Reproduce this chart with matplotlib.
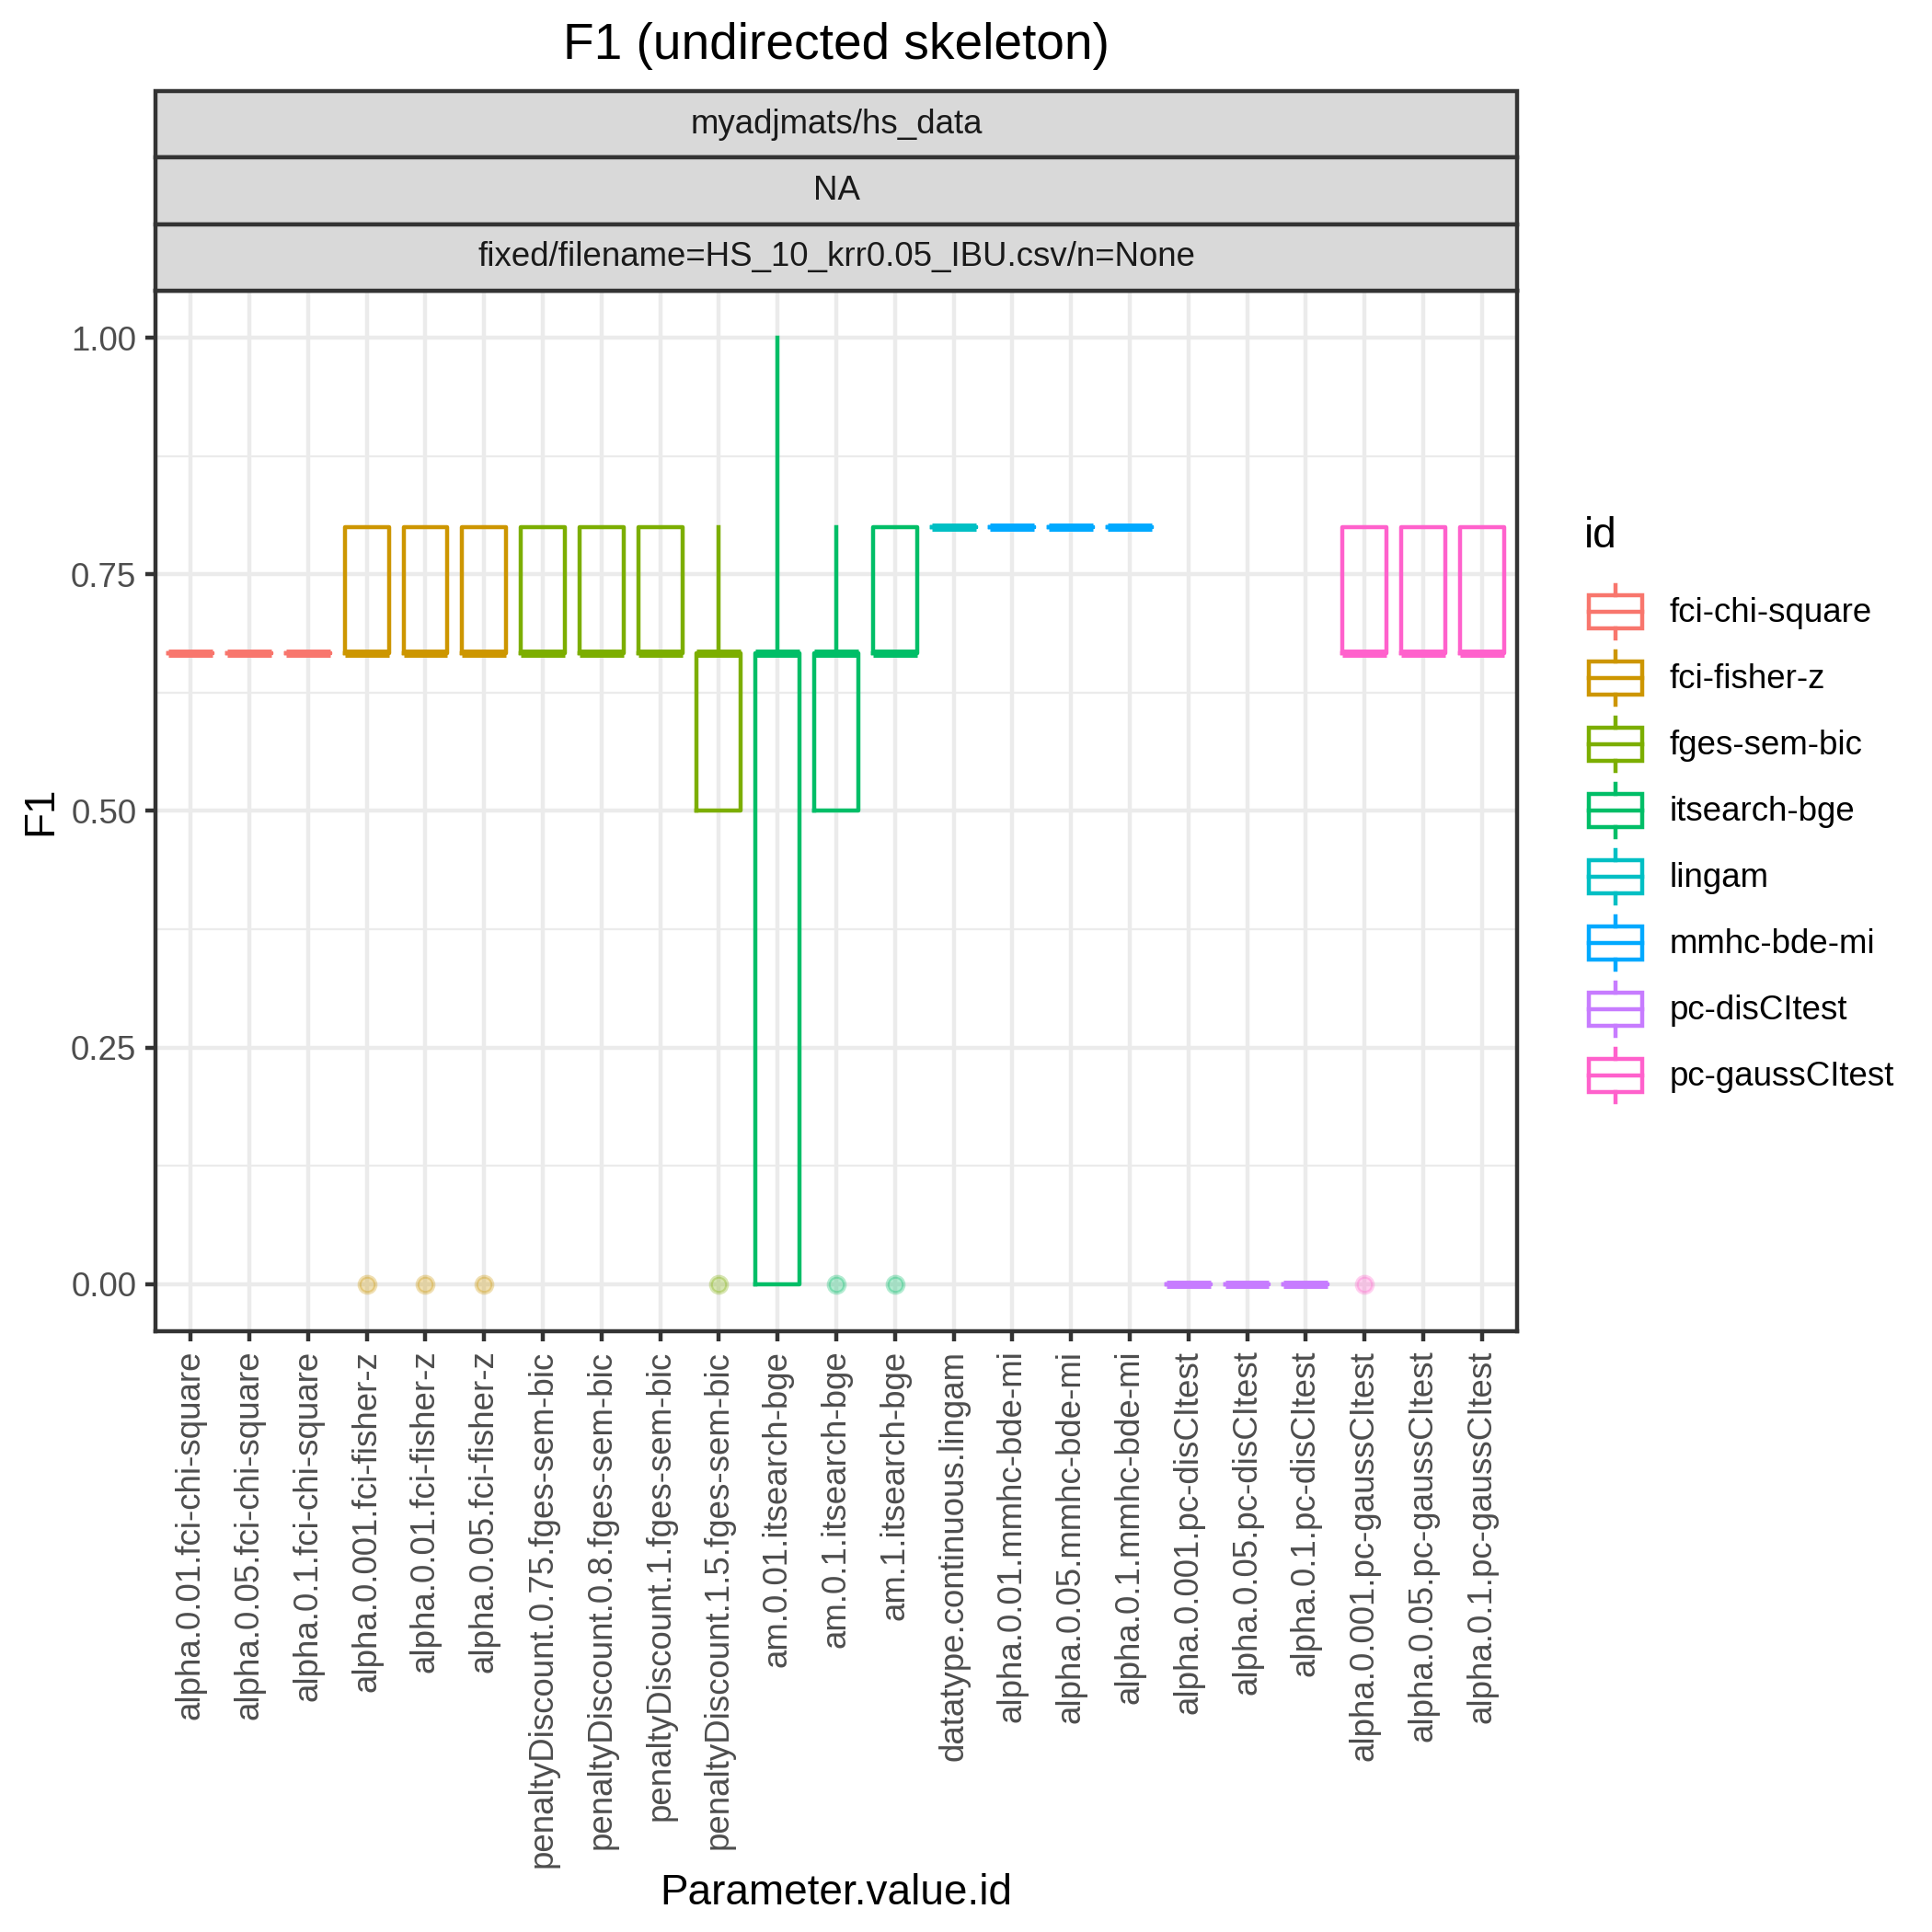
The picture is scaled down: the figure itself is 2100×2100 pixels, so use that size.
import matplotlib
matplotlib.use("Agg")
import matplotlib.pyplot as plt
from matplotlib.patches import Rectangle
from matplotlib.lines import Line2D
from matplotlib.legend_handler import HandlerBase
import numpy as np

plt.rcParams['font.family'] = ['Liberation Sans', 'DejaVu Sans']

# categories along x and the algorithm id of each one
categories = ["alpha.0.01.fci-chi-square", "alpha.0.05.fci-chi-square", "alpha.0.1.fci-chi-square",
              "alpha.0.001.fci-fisher-z", "alpha.0.01.fci-fisher-z", "alpha.0.05.fci-fisher-z",
              "penaltyDiscount.0.75.fges-sem-bic", "penaltyDiscount.0.8.fges-sem-bic",
              "penaltyDiscount.1.fges-sem-bic", "penaltyDiscount.1.5.fges-sem-bic",
              "am.0.01.itsearch-bge", "am.0.1.itsearch-bge", "am.1.itsearch-bge",
              "datatype.continuous.lingam",
              "alpha.0.01.mmhc-bde-mi", "alpha.0.05.mmhc-bde-mi", "alpha.0.1.mmhc-bde-mi",
              "alpha.0.001.pc-disCItest", "alpha.0.05.pc-disCItest", "alpha.0.1.pc-disCItest",
              "alpha.0.001.pc-gaussCItest", "alpha.0.05.pc-gaussCItest", "alpha.0.1.pc-gaussCItest"]
cat_ids = ["fci-chi-square"] * 3 + ["fci-fisher-z"] * 3 + ["fges-sem-bic"] * 4 + \
          ["itsearch-bge"] * 3 + ["lingam"] + ["mmhc-bde-mi"] * 3 + \
          ["pc-disCItest"] * 3 + ["pc-gaussCItest"] * 3

# box statistics
t = 2.0 / 3.0
whislo = [t, t, t, t, t, t, t, t, t, 0.5, 0.0, 0.5, t, 0.8, 0.8, 0.8, 0.8, 0, 0, 0, t, t, t]
q1     = [t, t, t, t, t, t, t, t, t, 0.5, 0.0, 0.5, t, 0.8, 0.8, 0.8, 0.8, 0, 0, 0, t, t, t]
med    = [t, t, t, t, t, t, t, t, t, t,   t,   t,   t, 0.8, 0.8, 0.8, 0.8, 0, 0, 0, t, t, t]
q3     = [t, t, t, 0.8, 0.8, 0.8, 0.8, 0.8, 0.8, t, t, t, 0.8, 0.8, 0.8, 0.8, 0.8, 0, 0, 0, 0.8, 0.8, 0.8]
whishi = [t, t, t, 0.8, 0.8, 0.8, 0.8, 0.8, 0.8, 0.8, 1.0, 0.8, 0.8, 0.8, 0.8, 0.8, 0.8, 0, 0, 0, 0.8, 0.8, 0.8]
fliers = [[], [], [], [0], [0], [0], [], [], [], [0], [], [0], [0], [], [], [], [], [], [], [], [0], [], []]

# legend entries
ids = ["fci-chi-square", "fci-fisher-z", "fges-sem-bic", "itsearch-bge",
       "lingam", "mmhc-bde-mi", "pc-disCItest", "pc-gaussCItest"]
id_colors = ["#F8766D", "#CD9600", "#7CAE00", "#00BE67",
             "#00BFC4", "#00A9FF", "#C77CFF", "#FF61CC"]
col = dict(zip(ids, id_colors))

fig = plt.figure(figsize=(7, 7), dpi=300)
W = 2100.0
# panel box in pixels: left, right, top, bottom
pl, pr, pt, pb = 169, 1649, 316, 1447
ax = fig.add_axes([pl / W, 1 - pb / W, (pr - pl) / W, (pb - pt) / W])

lw = 1.07
x = np.arange(1, len(categories) + 1)
for i in range(len(categories)):
    c = col[cat_ids[i]]
    st = [dict(med=med[i], q1=q1[i], q3=q3[i], whislo=whislo[i], whishi=whishi[i],
               fliers=fliers[i])]
    ax.bxp(st, positions=[x[i]], widths=0.75, showcaps=False, patch_artist=False,
           boxprops=dict(color=c, linewidth=lw),
           whiskerprops=dict(color=c, linewidth=lw),
           medianprops=dict(color=c, linewidth=lw * 2, solid_capstyle='butt'),
           flierprops=dict(marker='o', markerfacecolor=c, markeredgecolor=c,
                           markersize=4.2, alpha=0.3, linestyle='none'),
           manage_ticks=False, zorder=3)

ax.set_xlim(0.4, len(categories) + 0.6)
ax.set_ylim(-0.05, 1.05)
ax.set_xticks(x)
ax.set_xticklabels(categories, rotation=90, va='top', ha='center')
yt = [0.0, 0.25, 0.5, 0.75, 1.0]
ax.set_yticks(yt)
ax.set_yticklabels(["%.2f" % v for v in yt])
ax.set_yticks([0.125, 0.375, 0.625, 0.875], minor=True)
ax.tick_params(axis='both', which='major', labelsize=8.8, labelcolor='#4D4D4D',
               color='#333333', length=2.75, width=lw, pad=2.2)
ax.tick_params(axis='y', which='minor', length=0)
ax.grid(True, which='major', color='#EBEBEB', linewidth=lw, zorder=0)
ax.grid(True, which='minor', axis='y', color='#EBEBEB', linewidth=lw / 2, zorder=0)
ax.set_axisbelow(True)
for s in ax.spines.values():
    s.set_color('#333333')
    s.set_linewidth(lw)
ax.set_xlabel("Parameter.value.id", fontsize=11, labelpad=1.5)
ax.set_ylabel("F1", fontsize=11, labelpad=2.5)

# facet strips
strips = ["myadjmats/hs_data", "NA", "fixed/filename=HS_10_krr0.05_IBU.csv/n=None"]
sh = (pt - 99) / 3.0 / W
for k, lab in enumerate(strips):
    y0 = 1 - pt / W + (2 - k) * sh
    fig.patches.append(Rectangle((pl / W, y0), (pr - pl) / W, sh, transform=fig.transFigure,
                                 facecolor='#D9D9D9', edgecolor='#333333', linewidth=lw))
    fig.text((pl + pr) / 2 / W, y0 + sh / 2, lab, ha='center', va='center',
             fontsize=8.8, color='#1A1A1A')

fig.text((pl + pr) / 2 / W, 1 - 50 / W, "F1 (undirected skeleton)", ha='center',
         va='center', fontsize=13.2)


class BoxKey(HandlerBase):
    def create_artists(self, legend, orig_handle, xdescent, ydescent, width, height,
                       fontsize, trans):
        c = orig_handle.get_color()
        x0, y0 = -xdescent, -ydescent
        arts = [Rectangle((x0 + 0.1 * width, y0 + 0.25 * height), 0.8 * width, 0.5 * height,
                          facecolor='white', edgecolor=c, linewidth=lw, transform=trans),
                Line2D([x0 + 0.1 * width, x0 + 0.9 * width], [y0 + 0.5 * height] * 2,
                       color=c, linewidth=lw, transform=trans),
                Line2D([x0 + 0.5 * width] * 2, [y0 + 0.1 * height, y0 + 0.25 * height],
                       color=c, linewidth=lw, transform=trans),
                Line2D([x0 + 0.5 * width] * 2, [y0 + 0.75 * height, y0 + 0.9 * height],
                       color=c, linewidth=lw, transform=trans)]
        return arts


fig.text(1722 / W, 1 - 583 / W, "id", ha='left', va='center', fontsize=11)
handles = [Line2D([], [], color=c) for c in id_colors]
leg = fig.legend(handles, ids, loc='upper left', bbox_to_anchor=(1720 / W, 1 - 629 / W),
                 frameon=False, fontsize=8.8,
                 handler_map={Line2D: BoxKey()}, handlelength=1.96, handleheight=2.644,
                 labelspacing=0, handletextpad=0.625, borderpad=0, borderaxespad=0)

fig.savefig("out.png", dpi=300)
